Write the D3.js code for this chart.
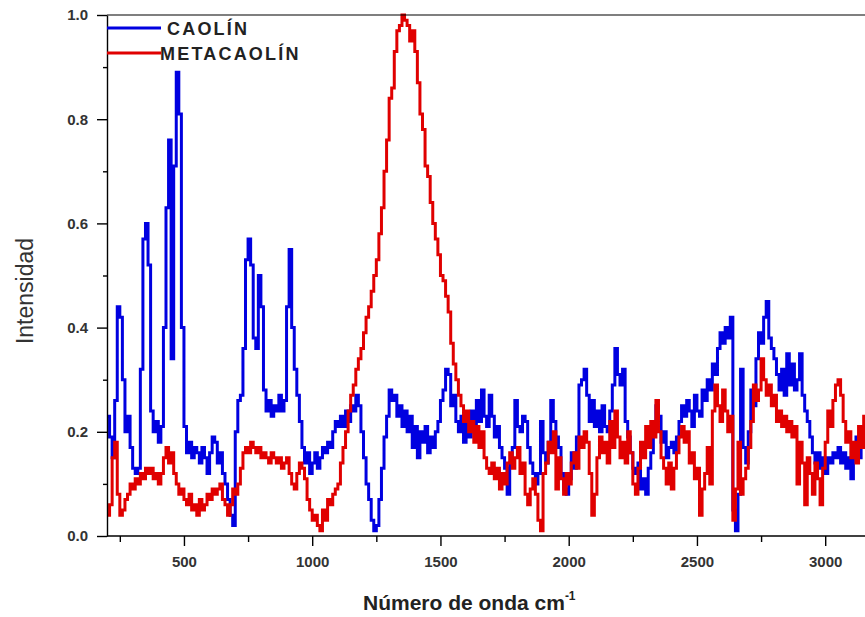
<!DOCTYPE html>
<html>
<head>
<meta charset="utf-8">
<script src="https://cdn.jsdelivr.net/npm/d3@7"></script>
<style>
    body { margin: 0; background: #fff; }
    svg { display: block; font-family: "Liberation Sans", Arial, sans-serif; }
</style>
</head>
<body>
<svg id="chart" width="865" height="617"></svg>
<script>
// grid of the spectrum (cm-1): first point and step between points
const waveStart = 200;
const waveStep = 10;

const seriesNames = ["CAOLÍN", "METACAOLÍN"];
const seriesColors = ["#0000e0", "#e00000"];

// CAOLÍN, one row per 100 cm-1
const caolin = [
    .23,.19,.15,.26,.44,.42,.30,.20,.23,.17,   // 200
    .13,.12,.13,.32,.57,.60,.52,.24,.20,.22,   // 300
    .18,.21,.40,.63,.76,.34,.71,.89,.81,.40,   // 400
    .21,.16,.18,.15,.17,.16,.14,.17,.15,.12,   // 500
    .16,.19,.18,.14,.16,.12,.10,.07,.04,.02,   // 600
    .20,.26,.27,.36,.53,.57,.52,.38,.36,.50,   // 700
    .44,.28,.24,.26,.23,.25,.24,.27,.24,.26,   // 800
    .44,.55,.40,.32,.27,.22,.17,.14,.16,.12,   // 900
    .14,.16,.13,.15,.17,.16,.18,.17,.20,.22,   // 1000
    .21,.23,.21,.24,.22,.25,.24,.27,.25,.20,   // 1100
    .15,.10,.07,.03,.01,.02,.07,.13,.19,.23,   // 1200
    .28,.26,.27,.23,.25,.21,.24,.20,.23,.17,   // 1300
    .21,.15,.20,.18,.21,.16,.19,.17,.20,.22,   // 1400
    .26,.28,.32,.31,.25,.27,.22,.20,.23,.18,   // 1500
    .22,.19,.24,.20,.26,.22,.28,.23,.21,.27,   // 1600
    .23,.19,.21,.17,.15,.13,.08,.14,.17,.26,   // 1700
    .21,.20,.23,.22,.17,.14,.12,.10,.12,.22,   // 1800
    .16,.14,.18,.26,.22,.19,.17,.12,.09,.08,   // 1900
    .11,.16,.13,.19,.29,.30,.32,.27,.22,.26,   // 2000
    .21,.24,.20,.25,.21,.20,.24,.29,.36,.31,   // 2100
    .29,.32,.22,.19,.16,.13,.12,.14,.09,.11,   // 2200
    .08,.13,.16,.20,.25,.23,.18,.20,.15,.17,   // 2300
    .18,.16,.19,.22,.25,.23,.26,.24,.21,.27,   // 2400
    .24,.23,.28,.26,.30,.28,.33,.31,.36,.39,   // 2500
    .37,.40,.38,.42,.05,.01,.08,.32,.17,.14,   // 2600
    .20,.28,.25,.34,.39,.37,.42,.45,.38,.36,   // 2700
    .34,.31,.28,.32,.27,.35,.29,.33,.28,.30,   // 2800
    .35,.27,.24,.22,.19,.16,.14,.16,.13,.15,   // 2900
    .12,.15,.14,.16,.15,.17,.14,.16,.13,.15,   // 3000
    .11,.16,.19,.15,.20,.17,.19                // 3100
];

// METACAOLÍN
const metacaolin = [
    .04,.06,.15,.18,.08,.04,.05,.07,.08,.10,   // 200
    .09,.11,.10,.12,.11,.13,.12,.13,.11,.12,   // 300
    .10,.12,.15,.17,.14,.16,.12,.10,.08,.09,   // 400
    .07,.06,.08,.05,.06,.04,.07,.05,.06,.08,   // 500
    .07,.09,.08,.09,.10,.07,.06,.04,.06,.09,   // 600
    .08,.10,.13,.16,.17,.16,.18,.17,.16,.17,   // 700
    .15,.16,.15,.14,.16,.15,.14,.15,.13,.14,   // 800
    .15,.12,.10,.09,.12,.14,.13,.11,.07,.05,   // 900
    .03,.04,.02,.01,.05,.03,.07,.06,.08,.09,   // 1000
    .10,.14,.17,.20,.24,.27,.29,.32,.34,.36,   // 1100
    .39,.42,.44,.47,.50,.53,.58,.63,.70,.76,   // 1200
    .84,.86,.93,.97,.98,1.0,.99,.98,.95,.97,   // 1300
    .93,.87,.81,.78,.71,.69,.64,.60,.57,.54,   // 1400
    .50,.49,.46,.43,.37,.33,.30,.27,.25,.22,   // 1500
    .24,.20,.22,.18,.21,.17,.20,.15,.13,.12,   // 1600
    .14,.11,.13,.09,.12,.10,.14,.16,.13,.15,   // 1700
    .17,.12,.14,.08,.06,.09,.11,.08,.03,.01,   // 1800
    .12,.14,.18,.16,.20,.09,.15,.11,.08,.12,   // 1900
    .10,.14,.16,.13,.19,.17,.20,.18,.12,.04,   // 2000
    .08,.15,.19,.16,.18,.14,.22,.17,.24,.19,   // 2100
    .15,.18,.14,.20,.16,.10,.08,.13,.18,.15,   // 2200
    .21,.17,.22,.19,.26,.20,.15,.13,.10,.14,   // 2300
    .09,.13,.16,.19,.21,.18,.20,.14,.16,.11,   // 2400
    .13,.04,.09,.12,.17,.10,.24,.29,.25,.22,   // 2500
    .28,.24,.20,.23,.03,.09,.18,.08,.11,.13,   // 2600
    .17,.22,.29,.26,.28,.34,.30,.27,.29,.25,   // 2700
    .27,.22,.24,.21,.23,.20,.22,.19,.21,.10,   // 2800
    .18,.14,.06,.15,.12,.08,.14,.11,.06,.13,   // 2900
    .18,.24,.21,.26,.29,.30,.27,.22,.18,.20,   // 3000
    .15,.18,.14,.21,.17,.23,.20                // 3100
];

const xTicks = [500, 1000, 1500, 2000, 2500, 3000];
const xMinorTicks = [250, 750, 1250, 1750, 2250, 2750];
const yTicks = [0, 0.2, 0.4, 0.6, 0.8, 1.0];
const yMinorTicks = [0.1, 0.3, 0.5, 0.7, 0.9];

const margin = {"top": 15, "left": 107, "bottom": 81};
const svg = d3.select("#chart");
const W = +svg.attr("width"), H = +svg.attr("height");
const plotBottom = H - margin.bottom;

// the plot runs past the right edge of the picture (cut at 865px)
let x = d3.scaleLinear().domain([200, 3200]).range([margin.left, margin.left + 3000 * 0.2565]);
let y = d3.scaleLinear().domain([0, 1]).range([plotBottom, margin.top]);

svg.append("defs").append("clipPath").attr("id", "plotclip")
    .append("rect")
    .attr("x", margin.left)
    .attr("y", margin.top - 2)
    .attr("width", W - margin.left)
    .attr("height", plotBottom - margin.top + 2);

let line = d3.line()
    .x((d, i) => x(waveStart + i * waveStep))
    .y(d => y(d))
    .curve(d3.curveStepAfter);

let lines = svg.append("g").attr("clip-path", "url(#plotclip)");
[caolin, metacaolin].forEach((s, k) => {
    lines.append("path")
        .datum(s)
        .attr("fill", "none")
        .attr("stroke", seriesColors[k])
        .attr("stroke-width", 3)
        .attr("stroke-linejoin", "miter")
        .attr("d", line);
});

// frame: top line
svg.append("line")
    .attr("x1", margin.left).attr("x2", W)
    .attr("y1", margin.top).attr("y2", margin.top)
    .attr("stroke", "#000").attr("stroke-width", 1.2);

// axes
let styleAxis = function (g) {
    g.selectAll("path.domain").attr("stroke", "#000").attr("stroke-width", 1.4);
    g.selectAll(".tick line").attr("stroke", "#000").attr("stroke-width", 1.4);
    g.selectAll("text")
        .attr("fill", "#333")
        .style("font-size", "15px")
        .style("font-weight", "bold");
};

svg.append("g")
    .attr("transform", "translate(0," + plotBottom + ")")
    .call(d3.axisBottom(x).tickValues(xMinorTicks).tickSize(6).tickFormat("").tickSizeOuter(0))
    .call(g => g.select(".domain").remove())
    .call(styleAxis);
svg.append("g")
    .attr("transform", "translate(0," + plotBottom + ")")
    .call(d3.axisBottom(x).tickValues(xTicks).tickSize(10).tickPadding(10)
        .tickFormat(d3.format("d")).tickSizeOuter(0))
    .call(g => g.select(".domain").attr("d", "M" + margin.left + ",0H" + W))
    .call(styleAxis);

svg.append("g")
    .attr("transform", "translate(" + margin.left + ",0)")
    .call(d3.axisLeft(y).tickValues(yMinorTicks).tickSize(4).tickFormat("").tickSizeOuter(0))
    .call(g => g.select(".domain").remove())
    .call(styleAxis);
svg.append("g")
    .attr("transform", "translate(" + margin.left + ",0)")
    .call(d3.axisLeft(y).tickValues(yTicks).tickSize(10).tickPadding(9)
        .tickFormat(d3.format(".1f")).tickSizeOuter(0))
    .call(styleAxis);

// axis titles
svg.append("text")
    .attr("transform", "translate(33,291) rotate(-90)")
    .attr("text-anchor", "middle")
    .attr("fill", "#333")
    .style("font-size", "23px")
    .text("Intensidad");

let xt = svg.append("text")
    .attr("x", 363)
    .attr("y", 610)
    .attr("fill", "#222")
    .style("font-size", "21px")
    .style("font-weight", "bold");
xt.append("tspan").text("Número de onda cm");
xt.append("tspan").attr("dy", -10).style("font-size", "12px").text("-1");

// legend
let legend = svg.append("g");
seriesNames.forEach((name, k) => {
    let ly = 28 + k * 25;
    legend.append("line")
        .attr("x1", margin.left).attr("x2", margin.left + 54)
        .attr("y1", ly).attr("y2", ly)
        .attr("stroke", seriesColors[k]).attr("stroke-width", 3);
    legend.append("text")
        .attr("x", k === 0 ? 167 : 160)
        .attr("y", ly + 7)
        .attr("fill", "#222")
        .style("font-size", "18px")
        .style("font-weight", "bold")
        .style("letter-spacing", "2.2px")
        .text(name);
});
</script>
</body>
</html>
